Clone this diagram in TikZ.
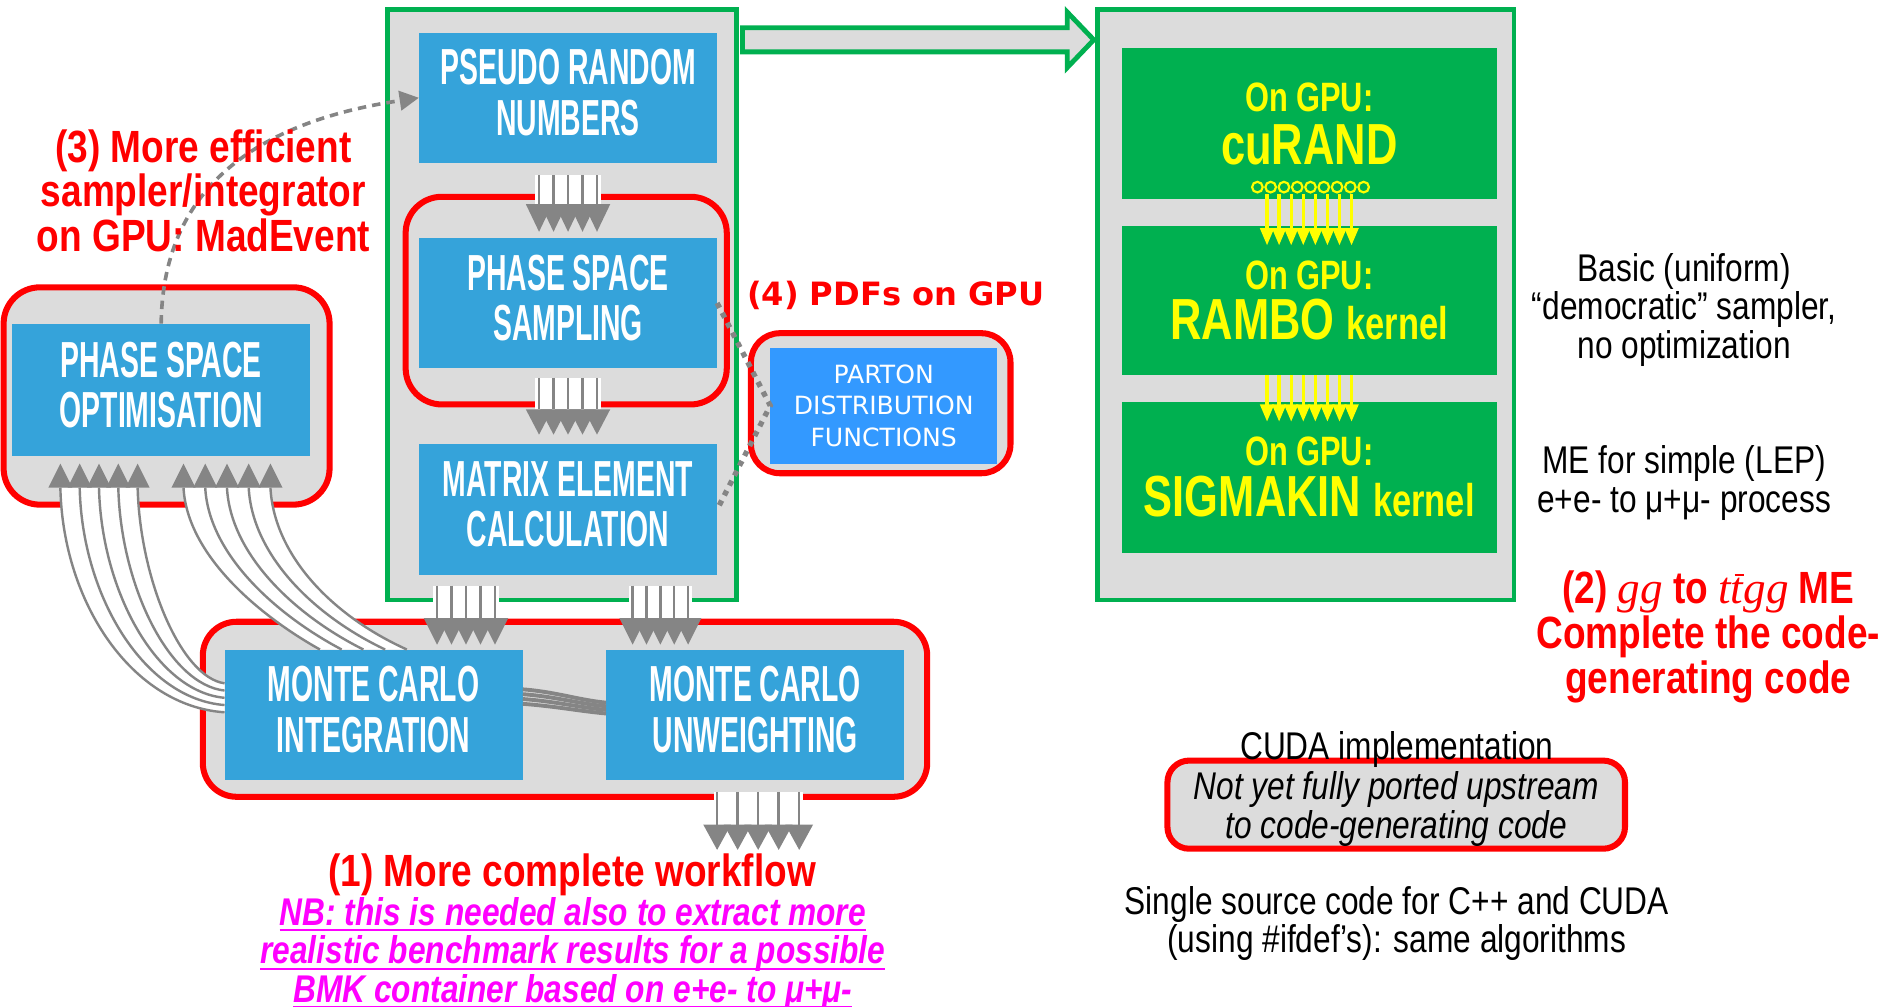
\documentclass[tikz,border=0pt]{standalone}
\usepackage{fontspec}
\setmainfont{Liberation Sans}
\newfontfamily\narrow{Liberation Sans}[FakeStretch=0.82]
\newfontfamily\dinfont{Liberation Sans}[FakeStretch=0.56]
\newfontfamily\yelfont{Liberation Sans}[FakeStretch=0.75]
\newfontfamily\verdfont{DejaVu Sans}
\newfontfamily\serifit{Liberation Serif}
\usetikzlibrary{calc,arrows.meta}

\definecolor{boxgray}{HTML}{DCDCDC}
\definecolor{ggreen}{HTML}{00B050}
\definecolor{dinblue}{HTML}{35A3DA}
\definecolor{pdfblue}{HTML}{3399FF}
\definecolor{agray}{HTML}{858585}
\definecolor{magen}{HTML}{FF00FF}
\definecolor{yel}{HTML}{FFFF00}
\definecolor{redc}{HTML}{FF0000}

\newcommand\ulx[1]{\leavevmode\setbox0\hbox{#1}\rlap{\rule[-2.6pt]{\wd0}{0.9pt}}\box0}
\newcommand\tbar{\leavevmode\setbox0\hbox{\serifit\itshape\mdseries t}\rlap{\kern0.3\wd0\raisebox{1.08\ht0}{\rule{0.75\wd0}{0.06em}}}\box0}

% gray multi-arrow pointing down: #1 anchor, #2 spacing, #3 half width, #4 top, #5 head base, #6 tip
\newcommand\grayforkdown[6]{%
\begin{scope}[shift={#1}]
 \fill[white] ({-2*#2-3},#4) rectangle ({2*#2+3},#5);
 \foreach \k in {-2,...,2}{
   \draw[agray,line width=1pt] ({\k*#2},#4) -- ({\k*#2},#5);
   \fill[agray] ({\k*#2-#3},#5) -- ({\k*#2+#3},#5) -- ({\k*#2},#6) -- cycle;
 }
\end{scope}}

% yellow multi-arrow: #1 anchor, #2 top, #3 head base, #4 tip
\newcommand\yelfork[4]{%
\begin{scope}[shift={#1}]
 \foreach \k in {0,...,7}{
   \draw[yel,line width=1.4pt] ({-35+10*\k},#2) -- ({-35+10*\k},#3+2);
   \fill[yel] ({-41+10*\k},#3) -- ({-29+10*\k},#3) -- ({-35+10*\k},#4) -- cycle;
 }
\end{scope}}

\begin{document}
\begin{tikzpicture}[x=0.5pt,y=-0.5pt,
 greenframe/.style={draw=ggreen,line width=2pt,fill=boxgray,inner sep=0pt,outer sep=0pt},
 redframe/.style={draw=redc,line width=2.5pt,rounded corners=14pt,inner sep=0pt,outer sep=0pt},
 dinbox/.style={fill=dinblue,text=white,inner sep=0pt,outer sep=0pt,minimum width=123.5pt,minimum height=54pt,align=center,text depth=4.5pt,font=\dinfont\bfseries\fontsize{21}{20.8}\selectfont},
 gpubox/.style={fill=ggreen,inner sep=0pt,outer sep=0pt,minimum width=155.5pt},
 gpusmall/.style={text=yel,inner sep=0pt,font=\yelfont\bfseries\fontsize{17}{17}\selectfont},
 gpubig/.style={text=yel,inner sep=0pt,font=\yelfont\bfseries\fontsize{24}{24}\selectfont},
 redtxt/.style={text=redc,inner sep=0pt,align=center,font=\narrow\bfseries\fontsize{18.7}{18.5}\selectfont},
 blktxt/.style={text=black,inner sep=0pt,align=center,font=\narrow\fontsize{16}{16}\selectfont},
 nbtxt/.style={text=magen,inner sep=0pt,align=center,font=\narrow\bfseries\itshape\fontsize{16}{16}\selectfont},
 dashconn/.style={draw=agray,line width=1.5pt,dash pattern=on 3.5pt off 2.5pt},
 dotconn/.style={draw=agray,line width=2.2pt,dash pattern=on 2.2pt off 2.4pt},
 bundle/.style={draw=agray,line width=1pt},
]
\useasboundingbox (0,0) rectangle (1568,834);

% big gray frames
\node[greenframe,minimum width=144.5pt,minimum height=244.5pt] (cbox) at (465.5,252.5) {};
\node[greenframe,minimum width=172.5pt,minimum height=244.5pt] (rbox) at (1081.5,252.5) {};

% hollow arrow from cbox to rbox
\draw[ggreen,line width=2pt,fill=boxgray] (615,23) -- (884,23) -- (884,10) -- (906,33) -- (884,56) -- (884,43) -- (615,43) -- cycle;

% red highlight frames with fill
\node[redframe,fill=boxgray,minimum width=135pt,minimum height=90pt,rounded corners=15pt] (psored) at (138,328) {};
\node[redframe,fill=boxgray,minimum width=300pt,minimum height=72.5pt] (mcred) at (468,587.5) {};
\node[redframe,fill=boxgray,minimum width=107.5pt,minimum height=58pt,rounded corners=12pt] (pdfred) at (729.5,334) {};
\node[redframe,fill=boxgray,minimum width=189.5pt,minimum height=36.5pt,rounded corners=9pt] (nyred) at (1156.5,666.5) {};

% blue process boxes
\node[dinbox] (prn) at (470.5,81) {PSEUDO RANDOM\\NUMBERS};
\node[dinbox] (pss) at (470.5,251) {PHASE SPACE\\SAMPLING};
\node[dinbox] (mec) at (470.5,422) {MATRIX ELEMENT\\CALCULATION};
\node[dinbox,minimum height=55pt] (pso) at (133.5,323) {PHASE SPACE\\OPTIMISATION};
\node[dinbox] (mci) at (309.5,592) {MONTE CARLO\\INTEGRATION};
\node[dinbox] (mcu) at (625.5,592) {MONTE CARLO\\UNWEIGHTING};
\node[fill=pdfblue,text=white,minimum width=94pt,minimum height=48pt,inner sep=0pt,outer sep=0pt,align=center,font=\verdfont\fontsize{10.4}{13}\selectfont] (pdf) at (732,336) {PARTON\\DISTRIBUTION\\FUNCTIONS};

\node[redframe,minimum width=133pt,minimum height=86pt,rounded corners=15pt] (pssred) at (469,249) {};

% GPU boxes
\node[gpubox,minimum height=62.5pt] (g1) at (1084.5,102.5) {};
\node[gpubox,minimum height=62pt] (g2) at (1084.5,249) {};
\node[gpubox,minimum height=62.5pt] (g3) at (1084.5,395.5) {};
\node[gpusmall] (g1a) at ($(g1.center)+(0,-21.5)$) {On GPU:};
\node[gpubig] (g1b) at ($(g1.center)+(0,17.5)$) {cuRAND};
\node[gpusmall] (g2a) at ($(g2.center)+(0,-21)$) {On GPU:};
\node[gpubig] (g2b) at ($(g2.center)+(0,15.5)$) {RAMBO {\fontsize{19}{19}\selectfont kernel}};
\node[gpusmall] (g3a) at ($(g3.center)+(0,-21.5)$) {On GPU:};
\node[gpubig] (g3b) at ($(g3.center)+(0,15.5)$) {SIGMAKIN {\fontsize{19}{19}\selectfont kernel}};

\foreach \k in {0,...,8}
  \draw[yel,line width=0.9pt,fill=ggreen] ($(g1.south)+(-43+11*\k,-10)$) circle (2.2pt);
\yelfork{(g1.south)}{-4}{24}{38}
\yelfork{(g2.south)}{0}{24}{38}

% gray multi-arrows
\grayforkdown{(prn.south)}{12}{11}{10}{34}{57}
\grayforkdown{(pss.south)}{12}{11}{8}{34}{55}
\grayforkdown{($(mci.north)+(76.5,0)$)}{12}{11}{-53}{-26}{-4}
\grayforkdown{($(mcu.north)+(-78.5,0)$)}{11.5}{11}{-53}{-26}{-4}
\grayforkdown{($(mcu.south)+(2.5,0)$)}{17}{11.5}{10}{37}{58}

% left bundle: MC integration -> PS optimisation
\begin{scope}[shift={(pso.south)}]
 \fill[white] (-83.5,26) .. controls (-81.5,122) and (-23.5,207) .. (52.5,212)
   -- (52.5,188) .. controls (16.5,183) and (-17.5,102) .. (-19.5,26) -- cycle;
 \foreach \k in {0,...,4}{
   \draw[bundle] ({-83.5+16*\k},26) .. controls ({-81.5+16*\k},{122-5*\k}) and ({-23.5+10*\k},{207-6*\k}) .. ({52.5},{212-6*\k});
   \fill[agray] ({-93.5+16*\k},26) -- ({-73.5+16*\k},26) -- ({-83.5+16*\k},6) -- cycle;
 }
 % right bundle
 \fill[white] (18.5,26) .. controls (21.5,82) and (81.5,132) .. (131.5,160)
   -- (203.5,160) .. controls (141.5,132) and (93.5,82) .. (90.5,26) -- cycle;
 \foreach \k in {0,...,4}{
   \draw[bundle] ({18.5+18*\k},26) .. controls ({21.5+18*\k},82) and ({81.5+15*\k},132) .. ({131.5+18*\k},160);
   \fill[agray] ({8.5+18*\k},26) -- ({28.5+18*\k},26) -- ({18.5+18*\k},6) -- cycle;
 }
\end{scope}

% band between the two Monte Carlo boxes
\foreach \k in {0,...,3}
  \draw[agray,line width=1.6pt] ($(mci.east)+(0,{-21+4*\k})$) .. controls (460,{573+4*\k}) and (480,{580+3*\k}) .. ($(mcu.west)+(0,{-10+3*\k})$);

% dotted / dashed connectors
\draw[dashconn,-{Triangle[length=8pt,width=8pt]}] (pso.north) .. controls (135,150) and (220,100) .. (prn.west);
\draw[dotconn] (pss.east) -- (pdf.west) -- (mec.east);

% texts
\node[redtxt] (t3) at (168.5,158) {(3) More efficient\\sampler/integrator\\on GPU: MadEvent};
\node[text=redc,inner sep=0pt,font=\verdfont\bfseries\fontsize{13.3}{15}\selectfont] (t4) at (742,245) {(4) PDFs on GPU};
\node[redtxt] (t1) at (474,725) {(1) More complete workflow};
\node[nbtxt] (nb) at (474.5,790) {\ulx{NB: this is needed also to extract more}\\\ulx{realistic benchmark results for a possible}\\\ulx{BMK container based on e+e- to μ+μ-}};

\node[blktxt] (basic) at (1395,256.5) {Basic (uniform)\\“democratic” sampler,\\no optimization};
\node[blktxt] (me) at (1395,400) {ME for simple (LEP)\\e+e- to μ+μ- process};
\node[redtxt] (t2) at (1415,527.5) {(2) {\serifit\itshape\mdseries gg} to {\serifit\itshape\mdseries t\tbar gg} ME\\Complete the code-\\generating code};
\node[blktxt] (cuda) at (1157,621) {CUDA implementation};
\node[blktxt,font=\narrow\itshape\fontsize{16}{16}\selectfont] (ny) at ($(nyred.center)+(0,3.5)$) {Not yet fully ported upstream\\to code-generating code};
\node[blktxt] (ss) at (1157,765) {Single source code for C++ and CUDA\\(using \#ifdef’s): same algorithms};
\end{tikzpicture}
\end{document}
